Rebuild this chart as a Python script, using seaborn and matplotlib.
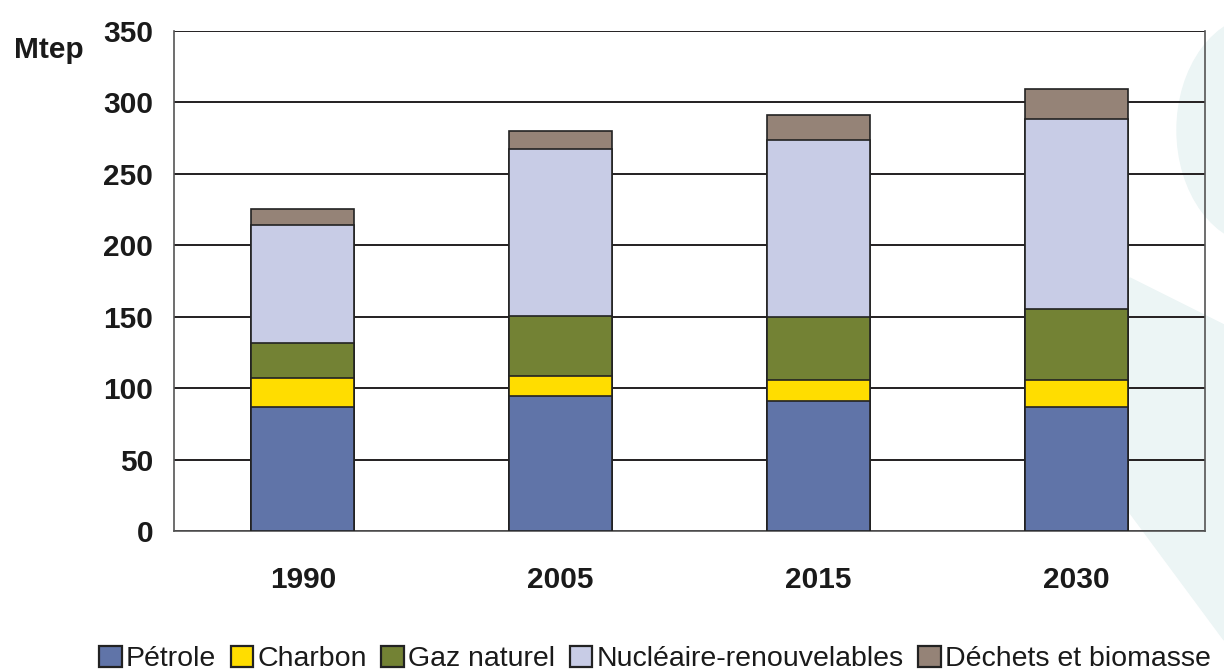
import numpy as np
import pandas as pd
import matplotlib.pyplot as plt
import seaborn as sns
from matplotlib.patches import Ellipse, Polygon, Patch

# values (Mtep)
years = ["1990", "2005", "2015", "2030"]
petrole = [87, 94.5, 91, 87]
charbon = [20, 14, 15, 19]
gaz = [24.5, 42, 44, 49.5]
nucleaire = [82.5, 117, 124, 133]
dechets = [11.5, 12.5, 17, 21]

series = ["Pétrole", "Charbon", "Gaz naturel", "Nucléaire-renouvelables", "Déchets et biomasse"]
colors = ["#6074a8", "#ffdd00", "#738234", "#c8cce6", "#958377"]
y_ticks = [0, 50, 100, 150, 200, 250, 300, 350]

sns.set_style("white")
plt.rcParams["font.family"] = ["Liberation Sans", "DejaVu Sans"]

df = pd.DataFrame({"year": years, "Pétrole": petrole, "Charbon": charbon,
                   "Gaz naturel": gaz, "Nucléaire-renouvelables": nucleaire,
                   "Déchets et biomasse": dechets})
cum = df[series].cumsum(axis=1)

fig = plt.figure(figsize=(12.24, 6.70), dpi=100)

# faint background logo shapes (figure decoration)
bg = "#ecf5f5"
fig.patches.append(Ellipse((1262 / 1224, 1 - 130 / 670), 170 / 1224, 230 / 670,
                           transform=fig.transFigure, color=bg, zorder=-5))
fig.patches.append(Polygon([(1130 / 1224, 1 - 278 / 670), (1224 / 1224, 1 - 325 / 670),
                            (1224 / 1224, 1 - 640 / 670), (1130 / 1224, 1 - 513 / 670)],
                           closed=True, transform=fig.transFigure, color=bg, zorder=-5))

ax = fig.add_axes([174 / 1224, 1 - 531 / 670, (1205 - 174) / 1224, 500 / 670])
ax.set_facecolor("none")

# stacked bars: draw cumulative totals from the top layer down
for name, col in zip(series[::-1], colors[::-1]):
    sns.barplot(x=df["year"], y=cum[name], color=col, saturation=1, width=0.4,
                edgecolor="#222222", linewidth=1.2, ax=ax, zorder=3)

ax.set_ylim(0, 350)
ax.set_xlim(-0.5, 3.5)
ax.set_yticks(y_ticks)
ax.set_yticklabels([str(v) for v in y_ticks], fontsize=21.5, fontweight="bold", color="#1a1a1a")
ax.yaxis.grid(True, color="#231f20", linewidth=1.4, zorder=0)
ax.set_axisbelow(True)
ax.tick_params(axis="y", length=10, width=1.2, color="#777777", pad=5)
ax.set_xticks(range(len(years)))
ax.set_xticklabels(years, fontsize=21.5, fontweight="bold", color="#1a1a1a")
ax.set_xticks(np.arange(-0.5, 4, 1), minor=True)
ax.tick_params(axis="x", which="major", length=0, pad=25)
ax.tick_params(axis="x", which="minor", length=10, width=1.2, color="#555555", direction="out")
ax.set_xlabel("")
ax.set_ylabel("")

for s in ["left", "bottom", "right"]:
    ax.spines[s].set_visible(True)
    ax.spines[s].set_color("#555555")
    ax.spines[s].set_linewidth(1.2)
ax.spines["top"].set_visible(False)

fig.text(49 / 1224, 1 - 50 / 670, "Mtep", fontsize=21.5, fontweight="bold",
         color="#1a1a1a", ha="center", va="center")

handles = [Patch(facecolor=c, edgecolor="#222222", linewidth=1.6, label=s)
           for s, c in zip(series, colors)]
fig.legend(handles=handles, loc="center", bbox_to_anchor=(655 / 1224, 1 - 659 / 670),
           ncol=5, frameon=False, fontsize=20.5, handlelength=0.8, handleheight=0.8,
           handletextpad=0.15, columnspacing=0.5, labelcolor="#1a1a1a")

fig.savefig("out.png", dpi=100)
